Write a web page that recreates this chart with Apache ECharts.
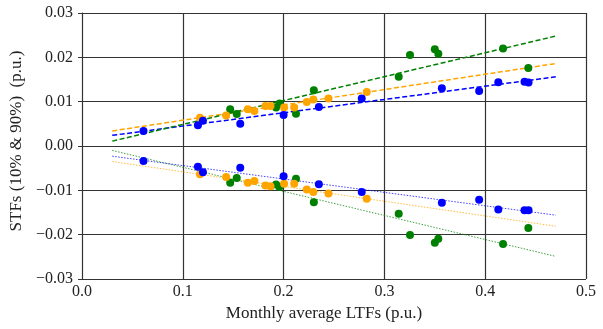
<!DOCTYPE html>
<html><head><meta charset="utf-8">
<script src="https://cdn.jsdelivr.net/npm/echarts@6/dist/echarts.min.js"></script>
<style>html,body{margin:0;padding:0;background:#fff}#c{width:603px;height:329px}</style>
</head><body><div id="c"></div>
<script>
// ---- data ----
const xTicks = [0.0, 0.1, 0.2, 0.3, 0.4, 0.5];
const yTicks = [-0.03, -0.02, -0.01, 0.00, 0.01, 0.02, 0.03];

const blueX     = [0.061, 0.115, 0.120, 0.157, 0.200, 0.235, 0.2775, 0.357, 0.394, 0.413, 0.439, 0.443];
const blueUpper = [0.0034, 0.0047, 0.0057, 0.0050, 0.0070, 0.0088, 0.0107, 0.0130, 0.0124, 0.0144, 0.0145, 0.0143];
const blueLower = [-0.0034, -0.0047, -0.0059, -0.0049, -0.0068, -0.0086, -0.0104, -0.0128, -0.0121, -0.0143, -0.0145, -0.0145];

const greenX     = [0.147, 0.1535, 0.1925, 0.196, 0.2123, 0.230, 0.3142, 0.3254, 0.350, 0.3535, 0.4177, 0.4428];
const greenUpper = [0.0083, 0.0072, 0.0087, 0.0096, 0.0073, 0.0126, 0.0156, 0.0205, 0.0218, 0.0208, 0.0220, 0.0176];
const greenLower = [-0.0083, -0.0072, -0.0087, -0.0092, -0.0074, -0.0127, -0.0153, -0.0201, -0.0218, -0.0209, -0.0221, -0.0185];

const orangeX     = [0.117, 0.143, 0.1645, 0.171, 0.182, 0.187, 0.2005, 0.2105, 0.223, 0.2295, 0.2445, 0.2825];
const orangeUpper = [0.0064, 0.0069, 0.0083, 0.0079, 0.0090, 0.0090, 0.0087, 0.0087, 0.0099, 0.0105, 0.0107, 0.0122];
const orangeLower = [-0.0064, -0.0070, -0.0083, -0.0079, -0.0089, -0.0091, -0.0085, -0.0085, -0.0098, -0.0104, -0.0107, -0.0119];

// trend-line end points
const fitX = [0.03, 0.47];
const blueUpperFit   = [0.0024, 0.0156];
const orangeUpperFit = [0.0034, 0.0186];
const greenUpperFit  = [0.0011, 0.0248];
const blueLowerFit   = [-0.0023, -0.0156];
const orangeLowerFit = [-0.0035, -0.0181];
const greenLowerFit  = [-0.0010, -0.0249];

const xName = 'Monthly average LTFs (p.u.)';
const yName = 'STFs (10% & 90%)  (p.u.)';

// ---- chart ----
const BLUE = '#0000ff', GREEN = '#008000', ORANGE = '#ffa500';
const FONT = 'Liberation Serif';
const zip = (xs, ys) => xs.map((x, i) => [x, ys[i]]);

function scatter(xs, ys, color, z) {
  return { type: 'scatter', data: zip(xs, ys), symbolSize: 8, itemStyle: { color: color, opacity: 1 }, z: z, silent: true };
}
function fit(ys, color, upper) {
  return {
    type: 'line', data: zip(fitX, ys), symbol: 'none', z: 1, silent: true,
    lineStyle: upper ? { color: color, width: 1.5, type: [5, 2.5] }
                     : { color: color, width: 1, type: [1.5, 1.5], opacity: 0.75 }
  };
}

const chart = echarts.init(document.getElementById('c'), null, { renderer: 'canvas' });
chart.setOption({
  animation: false,
  backgroundColor: '#fff',
  grid: { left: 82, right: 17, top: 13, bottom: 50 },
  xAxis: {
    type: 'value', min: xTicks[0], max: xTicks[xTicks.length - 1], interval: 0.1,
    name: xName, nameLocation: 'middle', nameGap: 23,
    nameTextStyle: { fontFamily: FONT, fontSize: 17, color: '#222', padding: [0, 20, 0, 0] },
    axisLine: { show: true, lineStyle: { color: '#333', width: 1 } },
    axisTick: { show: true, length: 4, lineStyle: { color: '#333' } },
    axisLabel: { fontFamily: FONT, fontSize: 16, color: '#222', margin: 5, formatter: v => v.toFixed(1) },
    splitLine: { show: true, lineStyle: { color: '#333', width: 1.2 } }
  },
  yAxis: {
    type: 'value', min: yTicks[0], max: yTicks[yTicks.length - 1], interval: 0.01,
    name: yName, nameLocation: 'middle', nameGap: 50,
    nameTextStyle: { fontFamily: FONT, fontSize: 17, color: '#222', padding: [0, 0, 0, 10] },
    axisLine: { show: true, lineStyle: { color: '#333', width: 1 } },
    axisTick: { show: true, length: 4, lineStyle: { color: '#333' } },
    axisLabel: { fontFamily: FONT, fontSize: 16, color: '#222', margin: 9,
      formatter: v => { const s = Math.abs(v).toFixed(2); return v < -1e-9 ? '\u2212' + s : s; } },
    splitLine: { show: true, lineStyle: { color: '#333', width: 1.2 } }
  },
  series: [
    fit(blueUpperFit, BLUE, true), fit(orangeUpperFit, ORANGE, true), fit(greenUpperFit, GREEN, true),
    fit(blueLowerFit, BLUE, false), fit(orangeLowerFit, ORANGE, false), fit(greenLowerFit, GREEN, false),
    scatter(greenX, greenUpper, GREEN, 2), scatter(greenX, greenLower, GREEN, 2),
    scatter(orangeX, orangeUpper, ORANGE, 3), scatter(orangeX, orangeLower, ORANGE, 3),
    scatter(blueX, blueUpper, BLUE, 4), scatter(blueX, blueLower, BLUE, 4)
  ]
});
</script></body></html>
